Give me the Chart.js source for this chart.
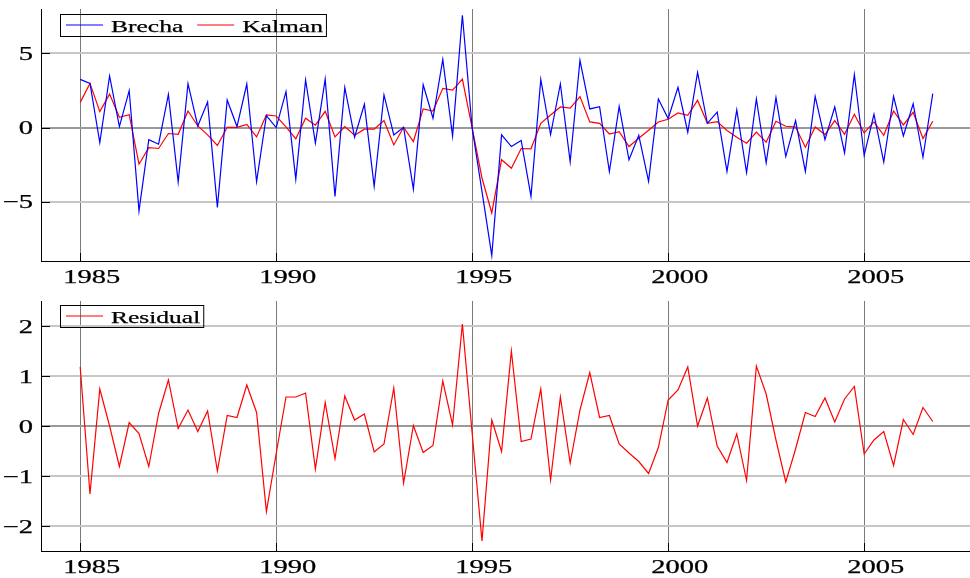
<!DOCTYPE html>
<html>
<head>
<meta charset="utf-8">
<script src="https://cdn.jsdelivr.net/npm/chart.js@4.4.1/dist/chart.umd.min.js"></script>
<style>
  body { margin: 0; background: #fff; }
  canvas { display: block; }
</style>
</head>
<body>
<canvas id="top-chart" width="970" height="290"></canvas>
<canvas id="bottom-chart" width="970" height="288"></canvas>
<script>
// quarterly series, 1985Q1 .. 2006Q4
const startYear = 1985;

const brecha = [
    3.25, 2.98, -1.01, 3.48,
    0.07, 2.49, -5.63, -0.81,
    -1.12, 2.24, -3.68, 2.96,
    0.11, 1.73, -5.38, 1.86,
    0.07, 2.94, -3.65, 0.81,
    0.0, 2.42, -3.48, 3.21,
    -1.05, 3.27, -4.64, 2.71,
    -0.65, 1.57, -3.97, 2.20,
    -0.49, 0.02, -4.15, 2.89,
    0.63, 4.60, -0.56, 7.58,
    -0.04, -4.3, -8.63, -0.49,
    -1.28, -0.87, -4.64, 3.25,
    -0.47, 2.94, -2.31, 4.53,
    1.26, 1.41, -2.96, 1.43,
    -2.17, -0.52, -3.63, 1.93,
    0.61, 2.71, -0.31, 3.72,
    0.29, 1.05, -2.96, 1.19,
    -3.03, 1.93, -2.38, 2.02,
    -1.95, 0.47, -2.96, 2.11,
    -0.81, 1.39, -1.70, 3.57,
    -1.88, 0.90, -2.33, 2.11,
    -0.56, 1.61, -2.00, 2.29
];

const kalman = [
    1.70, 2.98, 1.08, 2.26,
    0.70, 0.87, -2.47, -1.35,
    -1.41, -0.40, -0.45, 1.12,
    0.11, -0.49, -1.21, 0.02,
    0.02, 0.22, -0.63, 0.85,
    0.78, 0.05, -0.76, 0.63,
    0.16, 1.10, -0.63, 0.07,
    -0.52, -0.11, -0.11, 0.47,
    -1.17, 0.02, -0.94, 1.26,
    1.12, 2.65, 2.53, 3.27,
    -0.04, -3.4, -5.76, -2.17,
    -2.74, -1.41, -1.43, 0.29,
    0.85, 1.39, 1.32, 2.09,
    0.38, 0.29, -0.43, -0.27,
    -1.28, -0.72, -0.18, 0.38,
    0.56, 0.99, 0.83, 1.84,
    0.29, 0.40, -0.20, -0.65,
    -1.05, -0.31, -0.99, 0.43,
    0.09, 0.04, -1.32, 0.04,
    -0.47, 0.47, -0.45, 0.90,
    -0.36, 0.38, -0.52, 1.12,
    0.18, 1.03, -0.74, 0.43
];

const residual = [
    1.18, -1.36, 0.74, 0.0,
    -0.81, 0.07, -0.15, -0.81,
    0.25, 0.92, -0.05, 0.32,
    -0.11, 0.30, -0.90, 0.21,
    0.17, 0.82, 0.27, -1.71,
    -0.55, 0.58, 0.58, 0.66,
    -0.86, 0.47, -0.65, 0.60,
    0.12, 0.24, -0.52, -0.36,
    0.76, -1.14, 0.01, -0.53,
    -0.39, 0.90, 0.02, 2.04,
    -0.15, -2.30, 0.12, -0.51,
    1.50, -0.31, -0.26, 0.74,
    -1.08, 0.58, -0.74, 0.32,
    1.07, 0.17, 0.21, -0.36,
    -0.54, -0.71, -0.95, -0.43,
    0.52, 0.72, 1.18, 0.0,
    0.56, -0.40, -0.73, -0.16,
    -1.09, 1.20, 0.64, -0.28,
    -1.12, -0.46, 0.27, 0.19,
    0.56, 0.08, 0.54, 0.79,
    -0.56, -0.28, -0.11, -0.79,
    0.13, -0.17, 0.37, 0.09
];

const topYTicks = [-5, 0, 5];
const bottomYTicks = [-2, -1, 0, 1, 2];
const yearLabels = [1985, 1990, 1995, 2000, 2005];

const periods = brecha.map((_, i) => startYear + i / 4);
const toPoints = values => values.map((v, i) => ({ x: periods[i], y: v }));

const serif = '"Liberation Serif", "Times New Roman", serif';
const fmt = v => (v < 0 ? '\u2212' + Math.abs(v) : String(v));
const STRETCH = 1.5; // the original text is drawn wide

function wideText(ctx, text, x, y) {
    ctx.save();
    ctx.translate(x, y);
    ctx.scale(STRETCH, 1);
    ctx.fillText(text, 0, 0);
    ctx.lineWidth = 0.25;
    ctx.strokeStyle = ctx.fillStyle;
    ctx.strokeText(text, 0, 0);
    ctx.restore();
}

// inward tick marks + wide tick labels, like the original plot
const axisDecor = {
    id: 'axisDecor',
    afterDraw(chart) {
        const ctx = chart.ctx;
        const xs = chart.scales.x, ys = chart.scales.y;
        const area = chart.chartArea;
        ctx.save();
        ctx.strokeStyle = '#000';
        ctx.lineWidth = 1;
        ctx.beginPath();
        xs.ticks.forEach(t => {
            if (!Number.isInteger(t.value)) return;
            const px = Math.round(xs.getPixelForValue(t.value)) + 0.5;
            const len = yearLabels.includes(t.value) ? 8 : 4;
            ctx.moveTo(px, area.bottom);
            ctx.lineTo(px, area.bottom - len);
        });
        ys.ticks.forEach(t => {
            const py = Math.round(ys.getPixelForValue(t.value)) + 0.5;
            const len = t.label != null ? 9 : 4;
            ctx.moveTo(area.left, py);
            ctx.lineTo(area.left + len, py);
        });
        ctx.stroke();

        ctx.font = '19px ' + serif;
        ctx.fillStyle = '#000';
        ctx.textBaseline = 'alphabetic';
        xs.ticks.forEach(t => {
            if (t.label == null) return;
            const w = ctx.measureText(t.label).width * STRETCH;
            wideText(ctx, t.label, xs.getPixelForValue(t.value) + 11.5 - w / 2, area.bottom + 22);
        });
        ys.ticks.forEach(t => {
            if (t.label == null) return;
            const w = ctx.measureText(t.label).width * STRETCH;
            wideText(ctx, t.label, area.left - 8 - w, ys.getPixelForValue(t.value) + 6.5);
        });
        ctx.restore();
    }
};

// legend with a frame, drawn inside the plot
const boxLegend = {
    id: 'boxLegend',
    afterDraw(chart, args, opts) {
        const ctx = chart.ctx;
        ctx.save();
        ctx.font = '17px ' + serif;
        ctx.textBaseline = 'alphabetic';
        ctx.fillStyle = '#000';
        let x = opts.x + 6;
        const cy = opts.y + opts.h / 2;
        chart.data.datasets.forEach(ds => {
            ctx.strokeStyle = ds.borderColor;
            ctx.lineWidth = 1.2;
            ctx.beginPath();
            ctx.moveTo(x, cy);
            ctx.lineTo(x + 37, cy);
            ctx.stroke();
            x += 45;
            wideText(ctx, ds.label, x, opts.y + 17.5);
            x += ctx.measureText(ds.label).width * STRETCH + 14;
        });
        ctx.strokeStyle = '#000';
        ctx.lineWidth = 1;
        ctx.strokeRect(opts.x + 0.5, opts.y + 0.5, x - 14 + 3 - opts.x, opts.h);
        ctx.restore();
    }
};

function makeChart(id, datasets, yMin, yMax, yStep, yLabels, padTop, xHeight, legendBox) {
    const ctx = document.getElementById(id).getContext('2d');
    return new Chart(ctx, {
        type: 'line',
        data: { datasets: datasets },
        plugins: [axisDecor, boxLegend],
        options: {
            responsive: false,
            animation: false,
            layout: { autoPadding: false, padding: { top: padTop, right: 0, left: 0, bottom: 0 } },
            elements: {
                point: { radius: 0 },
                line: { tension: 0, borderWidth: 1.2 }
            },
            plugins: {
                legend: { display: false },
                tooltip: { enabled: false },
                boxLegend: legendBox
            },
            scales: {
                x: {
                    type: 'linear',
                    min: 1984,
                    max: 2007.7,
                    afterFit: scale => {
                        scale.height = xHeight;
                        scale.paddingLeft = 0;
                        scale.paddingRight = 0;
                    },
                    border: { display: true, color: '#000', width: 1 },
                    grid: {
                        drawTicks: false,
                        lineWidth: 1,
                        color: c => (c.tick && yearLabels.includes(c.tick.value)) ? '#7a7a7a' : 'rgba(0,0,0,0)'
                    },
                    ticks: {
                        stepSize: 1,
                        autoSkip: false,
                        maxRotation: 0,
                        padding: 0,
                        color: 'rgba(0,0,0,0)',
                        font: { family: serif, size: 19 },
                        callback: v => yearLabels.includes(v) ? String(v) : null
                    }
                },
                y: {
                    min: yMin,
                    max: yMax,
                    afterFit: scale => {
                        scale.width = 41;
                        scale.paddingTop = 0;
                        scale.paddingBottom = 0;
                    },
                    border: { display: true, color: '#000', width: 1 },
                    grid: {
                        drawTicks: false,
                        lineWidth: 2,
                        color: c => {
                            if (!c.tick || !yLabels.includes(c.tick.value)) return 'rgba(0,0,0,0)';
                            return c.tick.value === 0 ? '#9a9a9a' : '#c6c6c6';
                        }
                    },
                    ticks: {
                        stepSize: yStep,
                        autoSkip: false,
                        padding: 0,
                        color: 'rgba(0,0,0,0)',
                        font: { family: serif, size: 19 },
                        callback: v => yLabels.includes(v) ? fmt(v) : null
                    }
                }
            }
        }
    });
}

makeChart('top-chart', [
    { label: 'Brecha', data: toPoints(brecha), borderColor: '#0000ff', backgroundColor: '#0000ff' },
    { label: 'Kalman', data: toPoints(kalman), borderColor: '#ff0000', backgroundColor: '#ff0000' }
], -9, 8, 1, topYTicks, 9, 29, { x: 60, y: 14, h: 22 });

makeChart('bottom-chart', [
    { label: 'Residual', data: toPoints(residual), borderColor: '#ff0000', backgroundColor: '#ff0000' }
], -2.5, 2.5, 0.5, bottomYTicks, 11, 27, { x: 60, y: 15, h: 22 });
</script>
</body>
</html>
